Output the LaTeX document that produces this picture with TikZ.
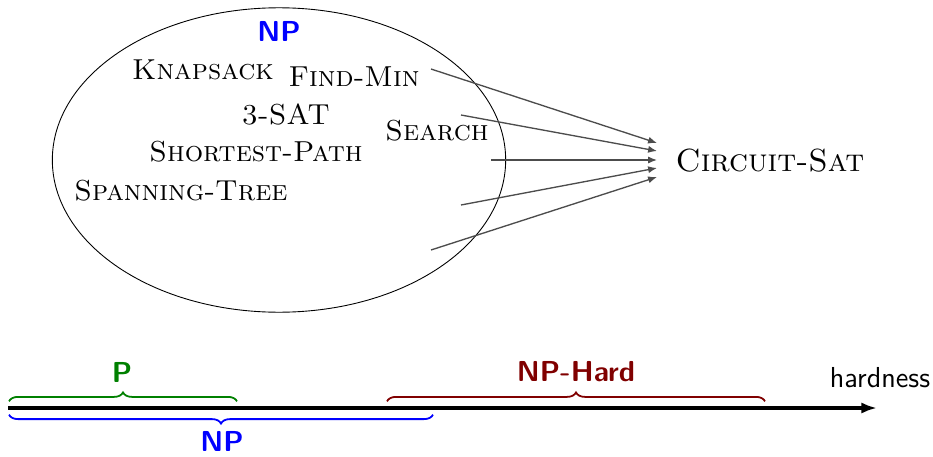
\documentclass[tikz,border=0pt]{standalone}
\usepackage{tikz}
\usetikzlibrary{shapes,arrows.meta,decorations.pathreplacing}
\tikzstyle{problem}    = [font=\fontsize{13}{15}\selectfont\scshape,
                          inner sep=.1cm]
\tikzstyle{reduction}  = [draw, -{Latex[length=4pt,width=3.2pt]}, black!70, line width=.6pt]
\tikzstyle{classlabel} = [font=\fontsize{13}{15}\selectfont\sffamily\bfseries]

\begin{document}
\begin{tikzpicture}[%
  x=.45pt,
  y=-.45pt,
  % Braces on the hardness axis:
  upbrace/.style={%
    decorate,
    thick,
    decoration={brace, amplitude=4pt, raise=3pt}
  },
  downbrace/.style={%
    decorate,
    thick,
    decoration={brace, mirror, amplitude=4pt, raise=3pt}
  }
  ]
  \useasboundingbox (0,0) rectangle (933,457);

  % Nodes:
  \node (np-set) [draw, ellipse, minimum width=204pt, minimum height=137pt] at (279,160) {};
  \node (np-label) [classlabel, blue] at (279,31) {NP};

  \node (knapsack) [problem] at (203,70) {Knapsack};
  \node (find-min) [problem] at (354,77) {Find-Min};
  \node (three-sat) [problem] at (286,114) {3-SAT};
  \node (search) [problem] at (437,131) {Search};
  \node (shortest-path) [problem] at (256,152) {Shortest-Path};
  \node (spanning-tree) [problem] at (181,191) {Spanning-Tree};
  \node (circuit-sat) [problem, font=\Large\scshape] at (770,161) {Circuit-Sat};

  \coordinate (s1) at (431,69);
  \coordinate (s2) at (461,115);
  \coordinate (s3) at (491,160);
  \coordinate (s4) at (461,205);
  \coordinate (s5) at (431,250);
  \coordinate (t1) at (657,143);
  \coordinate (t2) at (657,151);
  \coordinate (t3) at (657,160);
  \coordinate (t4) at (657,168);
  \coordinate (t5) at (657,177);

  % Hardness axis:
  \coordinate (axis-start) at (8,408);
  \coordinate (axis-end) at (877,408);
  \coordinate (p-start) at (9,408);
  \coordinate (p-end) at (237,408);
  \coordinate (hard-start) at (387,408);
  \coordinate (hard-end) at (765,408);
  \coordinate (np-start) at (9,408);
  \coordinate (np-end) at (433,408);

  \node (p-label) [classlabel, green!50!black] at (122,372) {P};
  \node (hard-label) [classlabel, red!50!black] at (576,372) {NP-Hard};
  \node (np-axis-label) [classlabel, blue] at (222,441) {NP};
  \node (hardness) [font=\fontsize{13}{15}\selectfont\sffamily] at (880,378) {hardness};

  % Connectors:
  \draw[reduction] (s1) -- (t1);
  \draw[reduction] (s2) -- (t2);
  \draw[reduction] (s3) -- (t3);
  \draw[reduction] (s4) -- (t4);
  \draw[reduction] (s5) -- (t5);

  \draw[-{Latex[length=7pt,width=5pt]}, line width=1.4pt] (axis-start) -- (axis-end);
  \draw[upbrace, green!50!black] (p-start) -- (p-end);
  \draw[upbrace, red!50!black] (hard-start) -- (hard-end);
  \draw[downbrace, blue] (np-start) -- (np-end);
\end{tikzpicture}
\end{document}
